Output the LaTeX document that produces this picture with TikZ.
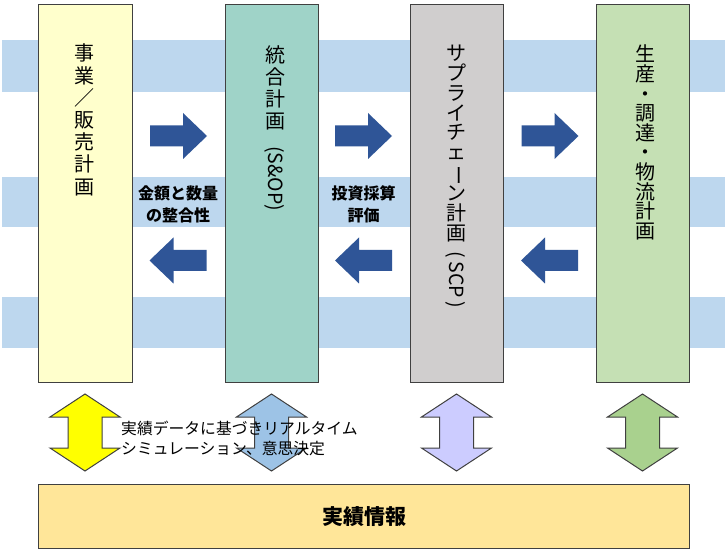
\documentclass[tikz,border=0pt]{standalone}
\usepackage{fontspec}
\usepackage{graphicx}
\newfontfamily\jp{Noto Sans CJK JP}
\definecolor{bandblue}{RGB}{189,215,238}
\definecolor{boxyellow}{RGB}{255,255,204}
\definecolor{boxteal}{RGB}{159,211,200}
\definecolor{boxgray}{RGB}{208,206,206}
\definecolor{boxgreen}{RGB}{197,224,180}
\definecolor{boxinfo}{RGB}{255,230,153}
\definecolor{arrowblue}{RGB}{47,85,151}
\definecolor{edgegray}{RGB}{64,64,64}
\definecolor{dayellow}{RGB}{255,255,0}
\definecolor{dablue}{RGB}{157,195,230}
\definecolor{dalavender}{RGB}{204,204,255}
\definecolor{dagreen}{RGB}{169,209,142}
\begin{document}
\begin{tikzpicture}[x=1pt,y=-1pt,
  band/.style={fill=bandblue,draw=none},
  planbox/.style={draw=edgegray,line width=1.3pt,inner sep=0,anchor=north west},
  vtext/.style={font=\jp\fontsize{20}{#1}\selectfont,align=center,inner sep=0,anchor=north},
  rottext/.style={font=\jp\fontsize{19.5}{22}\selectfont,inner sep=0,rotate=-90},
  smalllabel/.style={font=\jp\bfseries\fontsize{16}{22}\selectfont,align=center,inner sep=0},
  blockarrow/.pic={\fill[arrowblue] (-28.5,-10.5) -- (4.5,-10.5) -- (4.5,-23) -- (28.5,0) -- (4.5,23) -- (4.5,10.5) -- (-28.5,10.5) -- cycle;},
  dblarrow/.pic={\path[pic actions,draw=edgegray,line width=1pt,line join=miter]
     (0,-38.5) -- (35,-15.5) -- (17,-15.5) -- (17,15.5) -- (35,15.5) -- (0,38.5)
     -- (-35,15.5) -- (-17,15.5) -- (-17,-15.5) -- (-35,-15.5) -- cycle;}
]
\useasboundingbox (0,0) rectangle (728,553);
\fill[white] (0,0) rectangle (728,553);
% bands
\fill[band] (2,40) rectangle (725,92);
\fill[band] (2,177) rectangle (725,227);
\fill[band] (2,297) rectangle (725,348);
% plan boxes
\node[planbox,fill=boxyellow,minimum width=94pt,minimum height=378pt] (b1) at (38,4) {};
\node[planbox,fill=boxteal,minimum width=93pt,minimum height=378pt] (b2) at (225,4) {};
\node[planbox,fill=boxgray,minimum width=93pt,minimum height=378pt] (b3) at (410,4) {};
\node[planbox,fill=boxgreen,minimum width=93pt,minimum height=378pt] (b4) at (596,4) {};
\node[planbox,fill=boxinfo,minimum width=651pt,minimum height=64pt] (b5) at (38,484) {};
% block arrows
\pic at (178.5,136) {blockarrow};
\pic at (363.5,136) {blockarrow};
\pic at (550,136) {blockarrow};
\pic[rotate=180] at (178,260.5) {blockarrow};
\pic[rotate=180] at (363.5,260.5) {blockarrow};
\pic[rotate=180] at (549.5,260.5) {blockarrow};
% double arrows
\pic[fill=dayellow] at (85,432.5) {dblarrow};
\pic[fill=dablue] at (271.5,432.5) {dblarrow};
\pic[fill=dalavender] at (456.5,432.5) {dblarrow};
\pic[fill=dagreen] at (642.5,432.5) {dblarrow};
% box texts
\node[vtext=22.2] (t1) at (84,44) {事\\業\\／\\販\\売\\計\\画};
\node[vtext=22] (t2) at (275,46) {統\\合\\計\\画};
\node[rottext] (t2p) at (275,178.5) {(S\&OP)};
\node[vtext=19.8] (t3) at (456,45) {サ\\プ\\ラ\\イ\\チ\\ェ\\\rotatebox[origin=c]{-90}{ー}\\ン\\計\\画};
\node[rottext] (t3p) at (456,280) {(\,SCP\,)};
\node[vtext=19.6] (t4) at (645,45) {生\\産\\・\\調\\達\\・\\物\\流\\計\\画};
% labels
\node[smalllabel] (l1) at (178,204) {金額と数量\\の整合性};
\node[smalllabel] (l2) at (363.5,204) {投資採算\\評価};
\node[font=\jp\fontsize{15.8}{20}\selectfont,align=left,anchor=north west,inner sep=0] (sim) at (121,421) {実績データに基づきリアルタイム\\シミュレーション、意思決定};
\node[font=\jp\bfseries\fontsize{21}{24}\selectfont,inner sep=0] (info) at (b5.center) {実績情報};
\end{tikzpicture}
\end{document}
